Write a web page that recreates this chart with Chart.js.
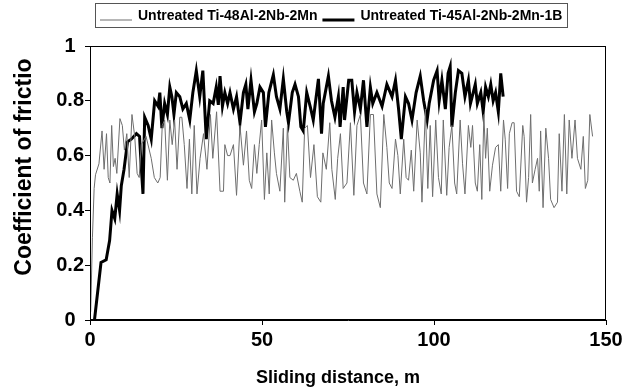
<!DOCTYPE html>
<html lang="en">
<head>
    <meta charset="UTF-8">
    <script src="https://cdn.jsdelivr.net/npm/chart.js@4.4.1/dist/chart.umd.min.js"></script>
    <title>Coefficient of friction vs sliding distance</title>
    <style>
        html, body { margin: 0; padding: 0; background: #fff; }
    </style>
</head>
<body>
    <canvas id="chart" width="637" height="392"></canvas>
    <script>
        const seriesNames = ['Untreated Ti-48Al-2Nb-2Mn', 'Untreated Ti-45Al-2Nb-2Mn-1B'];
        const xTickLabels = ['0', '50', '100', '150'];
        const yTickLabels = ['0', '0.2', '0.4', '0.6', '0.8', '1'];

        // Ti-48Al-2Nb-2Mn (thin grey trace)
        const grayX = [0.2, 0.7, 1.2, 1.6, 2.6, 3.5, 4.1, 4.8, 5.3, 5.8, 6.3, 6.8, 7.3, 7.8, 8.7, 9.4, 10.0, 10.7, 11.4, 12.2,
            13.0, 13.7, 14.3, 14.9, 16.3, 17.8, 18.7, 19.7, 20.4, 21.0, 21.7, 22.5, 23.2, 23.9, 24.6, 25.3, 26.1, 26.7, 27.4, 28.2,
            28.9, 29.6, 30.3, 31.1, 32.0, 33.0, 34.0, 35.0, 35.7, 36.8, 37.8, 38.8, 39.2, 40.0, 40.7, 41.7, 42.6, 43.6, 44.6, 45.5,
            46.3, 47.0, 47.8, 48.5, 49.2, 49.9, 50.7, 51.4, 52.1, 52.8, 53.6, 54.2, 55.2, 56.2, 56.6, 57.4, 58.1, 59.1, 60.0, 61.0,
            61.7, 62.4, 63.2, 64.1, 65.1, 66.1, 67.1, 67.7, 68.7, 69.7, 70.3, 71.3, 72.0, 72.8, 73.6, 74.7, 75.7, 76.7, 77.6, 78.6,
            79.5, 80.5, 81.5, 82.4, 83.4, 84.4, 85.4, 86.3, 87.0, 87.8, 88.8, 89.5, 90.2, 91.2, 91.9, 92.6, 93.4, 94.1, 95.1, 96.0,
            96.5, 97.5, 98.2, 98.9, 99.6, 100.5, 101.3, 102.1, 102.7, 103.7, 104.4, 105.2, 106.0, 106.6, 107.6, 108.3, 109.0, 110.0, 110.7, 111.2,
            112.0, 112.6, 113.3, 113.9, 114.5, 115.0, 115.5, 116.2, 117.0, 117.9, 118.7, 119.4, 120.2, 120.7, 121.4, 121.9, 122.7, 123.3, 124.0, 124.8,
            125.8, 126.2, 126.9, 127.5, 128.1, 128.6, 129.4, 130.1, 130.6, 131.0, 131.7, 132.5, 133.3, 133.9, 134.9, 135.9, 136.4, 137.2, 137.9, 138.6,
            139.3, 140.1, 141.0, 141.7, 142.7, 143.4, 144.0, 144.7, 145.3, 146.1];
        const grayY = [0.03, 0.30, 0.48, 0.53, 0.57, 0.69, 0.55, 0.68, 0.52, 0.50, 0.71, 0.56, 0.59, 0.535, 0.735, 0.71, 0.62, 0.68, 0.52, 0.75,
            0.67, 0.535, 0.52, 0.64, 0.67, 0.59, 0.52, 0.50, 0.52, 0.71, 0.73, 0.51, 0.73, 0.64, 0.73, 0.55, 0.74, 0.74, 0.64, 0.48,
            0.66, 0.46, 0.71, 0.46, 0.59, 0.68, 0.55, 0.75, 0.59, 0.76, 0.47, 0.47, 0.64, 0.60, 0.60, 0.64, 0.455, 0.71, 0.565, 0.69,
            0.51, 0.48, 0.64, 0.535, 0.64, 0.73, 0.44, 0.61, 0.46, 0.73, 0.61, 0.535, 0.47, 0.70, 0.43, 0.71, 0.52, 0.51, 0.535, 0.47,
            0.43, 0.70, 0.71, 0.52, 0.64, 0.45, 0.43, 0.61, 0.55, 0.72, 0.55, 0.44, 0.59, 0.68, 0.48, 0.50, 0.72, 0.455, 0.71, 0.75,
            0.50, 0.46, 0.75, 0.75, 0.46, 0.41, 0.75, 0.63, 0.50, 0.48, 0.66, 0.60, 0.46, 0.66, 0.52, 0.51, 0.62, 0.47, 0.73, 0.61,
            0.43, 0.77, 0.48, 0.71, 0.45, 0.73, 0.52, 0.46, 0.73, 0.455, 0.63, 0.71, 0.50, 0.46, 0.73, 0.57, 0.46, 0.71, 0.63, 0.71,
            0.50, 0.47, 0.64, 0.44, 0.75, 0.59, 0.70, 0.47, 0.565, 0.63, 0.64, 0.47, 0.73, 0.66, 0.48, 0.68, 0.72, 0.72, 0.47, 0.45,
            0.71, 0.67, 0.43, 0.52, 0.75, 0.50, 0.55, 0.59, 0.47, 0.69, 0.41, 0.70, 0.59, 0.44, 0.41, 0.43, 0.68, 0.47, 0.75, 0.46,
            0.73, 0.59, 0.73, 0.59, 0.55, 0.67, 0.48, 0.51, 0.75, 0.67];

        // Ti-45Al-2Nb-2Mn-1B (thick black trace)
        const blackX = [1.3, 3.2, 4.7, 5.7, 6.4, 7.2, 7.9, 8.6, 9.1, 9.9, 10.9, 12.0, 13.5, 14.4, 14.9, 15.4, 15.9, 16.9, 17.8, 18.8,
            19.8, 20.3, 20.9, 21.7, 22.5, 23.2, 23.8, 24.4, 25.1, 26.1, 27.0, 28.0, 29.0, 29.9, 30.9, 31.9, 32.8, 33.8, 34.8, 35.8,
            36.7, 37.3, 37.8, 38.5, 39.2, 40.0, 40.7, 41.7, 42.6, 43.6, 44.6, 45.3, 45.9, 46.8, 47.8, 48.5, 49.4, 50.4, 51.0, 52.0,
            53.3, 54.2, 55.2, 56.2, 57.2, 57.7, 58.8, 59.6, 60.6, 61.3, 62.0, 63.0, 64.0, 64.9, 66.4, 67.3, 67.8, 69.3, 70.2, 71.2,
            72.2, 72.7, 73.6, 74.0, 75.2, 76.1, 76.9, 77.6, 78.6, 79.5, 80.5, 81.5, 82.2, 83.4, 84.9, 86.3, 87.8, 88.8, 89.7, 90.5,
            91.7, 92.6, 93.6, 94.8, 96.0, 97.0, 98.0, 98.6, 99.9, 100.9, 101.5, 102.3, 103.3, 104.1, 104.7, 105.2, 106.2, 107.1, 108.1, 109.0,
            110.0, 110.6, 112.0, 112.6, 113.6, 114.3, 115.0, 115.8, 116.5, 117.2, 117.9, 118.7, 119.4, 120.1];
        const blackY = [0, 0.21, 0.22, 0.29, 0.40, 0.37, 0.46, 0.40, 0.49, 0.55, 0.65, 0.66, 0.68, 0.67, 0.56, 0.46, 0.74, 0.71, 0.66, 0.80,
            0.78, 0.83, 0.70, 0.79, 0.75, 0.85, 0.815, 0.75, 0.83, 0.815, 0.77, 0.79, 0.73, 0.83, 0.91, 0.815, 0.91, 0.66, 0.80, 0.79,
            0.85, 0.785, 0.89, 0.78, 0.83, 0.79, 0.83, 0.77, 0.815, 0.72, 0.83, 0.86, 0.77, 0.875, 0.76, 0.79, 0.85, 0.83, 0.705, 0.83,
            0.895, 0.815, 0.77, 0.88, 0.76, 0.72, 0.83, 0.86, 0.815, 0.705, 0.69, 0.83, 0.78, 0.73, 0.88, 0.68, 0.79, 0.89, 0.80, 0.74,
            0.815, 0.705, 0.85, 0.73, 0.875, 0.875, 0.76, 0.83, 0.77, 0.875, 0.705, 0.85, 0.79, 0.83, 0.78, 0.86, 0.815, 0.875, 0.77, 0.66,
            0.815, 0.79, 0.73, 0.83, 0.89, 0.80, 0.73, 0.79, 0.875, 0.91, 0.80, 0.875, 0.77, 0.90, 0.925, 0.705, 0.83, 0.91, 0.90, 0.815,
            0.875, 0.79, 0.86, 0.79, 0.83, 0.76, 0.85, 0.815, 0.86, 0.80, 0.83, 0.76, 0.90, 0.815];

        const fontFamily = '"Liberation Sans", Arial, sans-serif';

        function points(xs, ys) {
            return xs.map((x, i) => ({ x: x, y: ys[i] }));
        }

        // plot frame plus the boxed legend above the plot
        const framePlugin = {
            id: 'frame',
            afterDraw(chart) {
                const ctx = chart.ctx;
                const a = chart.chartArea;
                ctx.save();
                ctx.strokeStyle = '#000';
                ctx.lineWidth = 1;
                ctx.strokeRect(Math.round(a.left) + 0.5, Math.round(a.top) + 0.5,
                    Math.round(a.right - a.left) - 1, Math.round(a.bottom - a.top) - 1);

                ctx.font = 'bold 14px ' + fontFamily;
                const ds = chart.data.datasets;
                const sample = 32, gap = 6, between = 5, pad = 5;
                const widths = ds.map(d => ctx.measureText(d.label).width);
                const total = pad + sample + gap + widths[0] + between + sample + gap + widths[1] + pad;
                const right = 567, top = 3, h = 24;
                let x = Math.round(right - total);
                ctx.strokeStyle = '#555';
                ctx.strokeRect(x + 0.5, top + 0.5, Math.round(total), h);
                const baseY = top + 17;
                x += pad;
                ctx.textBaseline = 'alphabetic';
                ctx.fillStyle = '#000';
                ds.forEach((d, i) => {
                    ctx.strokeStyle = d.borderColor;
                    ctx.lineWidth = d.borderWidth;
                    ctx.beginPath();
                    ctx.moveTo(x, baseY);
                    ctx.lineTo(x + sample, baseY);
                    ctx.stroke();
                    x += sample + gap;
                    ctx.fillText(d.label, x, baseY);
                    x += widths[i] + between;
                });
                ctx.restore();
            }
        };

        new Chart(document.getElementById('chart'), {
            type: 'line',
            data: {
                datasets: [{
                    label: seriesNames[0],
                    data: points(grayX, grayY),
                    borderColor: '#6e6e6e',
                    borderWidth: 1,
                    pointRadius: 0,
                    tension: 0
                }, {
                    label: seriesNames[1],
                    data: points(blackX, blackY),
                    borderColor: '#000',
                    borderWidth: 3,
                    pointRadius: 0,
                    tension: 0
                }]
            },
            options: {
                responsive: false,
                animation: false,
                layout: { padding: { top: 46, right: 31, left: 0, bottom: 0 } },
                plugins: {
                    legend: { display: false },
                    tooltip: { enabled: false }
                },
                scales: {
                    x: {
                        type: 'linear',
                        min: 0,
                        max: 150,
                        ticks: {
                            stepSize: 50,
                            color: '#000',
                            font: { family: fontFamily, size: 20, weight: 'bold' },
                            padding: 3,
                            maxRotation: 0,
                            callback: (v, i) => xTickLabels[i]
                        },
                        grid: { drawOnChartArea: false, drawTicks: true, tickLength: 5, color: '#000' },
                        border: { color: '#000' },
                        title: {
                            display: true,
                            text: 'Sliding distance, m    ',
                            color: '#000',
                            font: { family: fontFamily, size: 18, weight: 'bold' },
                            padding: { top: 0, bottom: 3 }
                        },
                        afterFit: s => { s.height = 72; }
                    },
                    y: {
                        min: 0,
                        max: 1,
                        ticks: {
                            stepSize: 0.2,
                            color: '#000',
                            crossAlign: 'center',
                            padding: 1,
                            font: { family: fontFamily, size: 20, weight: 'bold' },
                            callback: (v, i) => yTickLabels[i]
                        },
                        grid: { drawOnChartArea: false, drawTicks: true, tickLength: 5, color: '#000' },
                        border: { color: '#000' },
                        title: {
                            display: true,
                            text: '     Coefficient of frictio',
                            color: '#000',
                            font: { family: fontFamily, size: 23, weight: 'bold' },
                            padding: { top: 11, bottom: 0 }
                        },
                        afterFit: s => { s.width = 90; }
                    }
                }
            },
            plugins: [framePlugin]
        });
    </script>
</body>
</html>
